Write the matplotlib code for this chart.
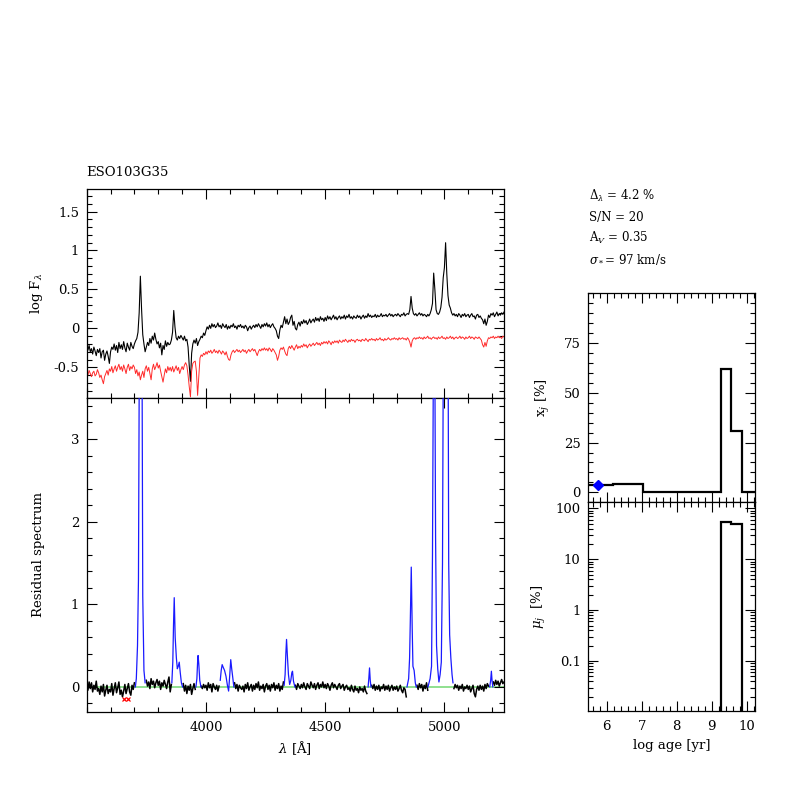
import numpy as np
import matplotlib
matplotlib.use("Agg")
import matplotlib.pyplot as plt
from matplotlib.ticker import MultipleLocator, FixedLocator, LogLocator, NullFormatter, FuncFormatter

# spectra on a 5 A grid
wave = np.arange(3500, 5251, 5)

obs_logflux = [
    -0.25, -0.28, -0.22, -0.30, -0.26, -0.33, -0.24, -0.29, -0.35, -0.27,
    -0.31, -0.26, -0.38, -0.30, -0.28, -0.41, -0.33, -0.29, -0.36, -0.45,
    -0.30, -0.24, -0.27, -0.20, -0.28, -0.22, -0.31, -0.18, -0.26, -0.21,
    -0.27, -0.17, -0.25, -0.30, -0.19, -0.24, -0.28, -0.18, -0.23, -0.26,
    -0.20, -0.16, -0.13, -0.05, 0.20, 0.67, 0.25, -0.08, -0.20, -0.30,
    -0.24, -0.18, -0.22, -0.13, -0.19, -0.10, -0.15, -0.06, -0.14, -0.20,
    -0.17, -0.25, -0.19, -0.34, -0.22, -0.27, -0.16, -0.23, -0.18, -0.21,
    -0.20, -0.15, -0.05, 0.23, 0.02, -0.12, -0.15, -0.10, -0.13, -0.09,
    -0.12, -0.15, -0.10, -0.16, -0.14, -0.24, -0.48, -0.68, -0.32, -0.20,
    -0.15, -0.19, -0.13, -0.22, -0.17, -0.14, -0.10, -0.12, -0.06, -0.09,
    -0.03, 0.02, -0.01, 0.04, 0.00, 0.06, 0.02, 0.05, 0.01, 0.03,
    0.07, 0.02, 0.04, 0.00, 0.06, 0.03, 0.01, 0.05, -0.01, 0.03,
    0.00, 0.04, 0.02, 0.06, 0.01, 0.03, -0.01, 0.04, 0.02, 0.05,
    0.01, 0.03, 0.00, 0.04, 0.02, -0.03, 0.01, 0.03, -0.01, 0.02,
    0.04, 0.01, 0.05, 0.02, 0.06, 0.03, 0.00, 0.05, 0.02, 0.06,
    0.03, 0.07, 0.02, 0.05, 0.01, 0.04, 0.06, 0.02, 0.00, -0.03,
    -0.10, -0.13, -0.02, 0.04, 0.01, 0.08, 0.15, 0.06, 0.12, 0.05,
    0.08, 0.14, 0.17, 0.04, 0.09, 0.00, -0.02, 0.05, 0.08, 0.03,
    0.09, 0.06, 0.11, 0.07, 0.10, 0.05, 0.08, 0.12, 0.07, 0.10,
    0.12, 0.08, 0.14, 0.10, 0.13, 0.09, 0.15, 0.11, 0.13, 0.09,
    0.14, 0.10, 0.16, 0.12, 0.15, 0.11, 0.14, 0.17, 0.12, 0.15,
    0.11, 0.14, 0.16, 0.12, 0.15, 0.13, 0.17, 0.12, 0.16, 0.14,
    0.18, 0.13, 0.15, 0.12, 0.16, 0.14, 0.13, 0.17, 0.14, 0.16,
    0.12, 0.15, 0.17, 0.13, 0.16, 0.14, 0.19, 0.15, 0.17, 0.14,
    0.16, 0.15, 0.18, 0.14, 0.17, 0.15, 0.16, 0.19, 0.15, 0.17,
    0.16, 0.18, 0.15, 0.17, 0.19, 0.16, 0.18, 0.15, 0.17, 0.18,
    0.16, 0.19, 0.17, 0.15, 0.18, 0.17, 0.20, 0.16, 0.18, 0.19,
    0.18, 0.24, 0.41, 0.26, 0.19, 0.17, 0.19, 0.16, 0.18, 0.20,
    0.17, 0.19, 0.16, 0.18, 0.17, 0.15, 0.18, 0.16, 0.19, 0.24,
    0.32, 0.71, 0.50, 0.24, 0.19, 0.18, 0.21, 0.27, 0.40, 0.65,
    0.78, 1.10, 0.70, 0.42, 0.30, 0.26, 0.20, 0.17, 0.19, 0.16,
    0.18, 0.15, 0.19, 0.17, 0.14, 0.18, 0.16, 0.19, 0.15, 0.17,
    0.18, 0.14, 0.17, 0.19, 0.15, 0.16, 0.12, 0.17, 0.18, 0.14,
    0.16, 0.13, 0.11, 0.06, 0.12, 0.04, 0.09, 0.17, 0.14, 0.19,
    0.17, 0.20, 0.15, 0.18, 0.21, 0.16, 0.19, 0.17, 0.20, 0.18,
    0.21,
]

model_logflux = [
    -0.56, -0.60, -0.54, -0.58, -0.62, -0.57, -0.55, -0.61, -0.59, -0.53,
    -0.57, -0.63, -0.60, -0.66, -0.71, -0.62, -0.58, -0.54, -0.60, -0.52,
    -0.55, -0.49, -0.57, -0.52, -0.48, -0.55, -0.50, -0.46, -0.53, -0.49,
    -0.55, -0.47, -0.52, -0.58, -0.50, -0.46, -0.54, -0.49, -0.52, -0.47,
    -0.50, -0.58, -0.53, -0.61, -0.56, -0.66, -0.60, -0.55, -0.63, -0.52,
    -0.48, -0.55, -0.50, -0.58, -0.66, -0.52, -0.46, -0.53, -0.49, -0.44,
    -0.51, -0.47, -0.55, -0.62, -0.69, -0.60, -0.52, -0.57, -0.49, -0.54,
    -0.50, -0.55, -0.49, -0.56, -0.52, -0.48, -0.54, -0.50, -0.58, -0.53,
    -0.49, -0.53, -0.47, -0.44, -0.48, -0.60, -0.75, -0.88, -0.55, -0.45,
    -0.43, -0.42, -0.55, -0.86, -0.62, -0.38, -0.34, -0.36, -0.32, -0.34,
    -0.30, -0.33, -0.29, -0.31, -0.28, -0.32, -0.30, -0.27, -0.31, -0.29,
    -0.32, -0.28, -0.30, -0.33, -0.29, -0.31, -0.34, -0.30, -0.36, -0.40,
    -0.41, -0.34, -0.30, -0.28, -0.31, -0.29, -0.27, -0.30, -0.28, -0.31,
    -0.29, -0.27, -0.30, -0.28, -0.32, -0.29, -0.27, -0.30, -0.28, -0.26,
    -0.29, -0.27, -0.31, -0.35, -0.30, -0.27, -0.29, -0.26, -0.28, -0.25,
    -0.28, -0.26, -0.29, -0.25, -0.27, -0.30, -0.26, -0.28, -0.31, -0.34,
    -0.41, -0.36, -0.28, -0.25, -0.27, -0.24, -0.29, -0.33, -0.35, -0.26,
    -0.23, -0.26, -0.22, -0.25, -0.28, -0.24, -0.21, -0.26, -0.23, -0.25,
    -0.22, -0.24, -0.20, -0.23, -0.21, -0.25, -0.22, -0.20, -0.23, -0.21,
    -0.19, -0.22, -0.20, -0.18, -0.21, -0.19, -0.22, -0.18, -0.20, -0.17,
    -0.19, -0.17, -0.20, -0.16, -0.18, -0.21, -0.17, -0.19, -0.16, -0.18,
    -0.16, -0.19, -0.15, -0.17, -0.18, -0.15, -0.17, -0.14, -0.16, -0.18,
    -0.15, -0.17, -0.14, -0.16, -0.15, -0.18, -0.15, -0.14, -0.16, -0.15,
    -0.17, -0.14, -0.15, -0.16, -0.13, -0.15, -0.17, -0.14, -0.15, -0.13,
    -0.15, -0.14, -0.16, -0.13, -0.15, -0.14, -0.12, -0.15, -0.14, -0.16,
    -0.13, -0.15, -0.14, -0.12, -0.14, -0.15, -0.13, -0.14, -0.12, -0.14,
    -0.13, -0.15, -0.12, -0.14, -0.13, -0.12, -0.14, -0.13, -0.15, -0.12,
    -0.14, -0.18, -0.24, -0.16, -0.13, -0.12, -0.14, -0.12, -0.13, -0.11,
    -0.13, -0.12, -0.14, -0.11, -0.13, -0.12, -0.10, -0.13, -0.12, -0.14,
    -0.12, -0.11, -0.13, -0.12, -0.14, -0.11, -0.13, -0.12, -0.10, -0.13,
    -0.12, -0.14, -0.11, -0.13, -0.12, -0.10, -0.13, -0.11, -0.14, -0.12,
    -0.11, -0.13, -0.12, -0.10, -0.13, -0.11, -0.12, -0.14, -0.11, -0.13,
    -0.12, -0.10, -0.13, -0.11, -0.12, -0.14, -0.11, -0.12, -0.13, -0.11,
    -0.13, -0.15, -0.21, -0.24, -0.18, -0.23, -0.16, -0.12, -0.13, -0.11,
    -0.12, -0.10, -0.13, -0.11, -0.12, -0.10, -0.12, -0.11, -0.13, -0.10,
    -0.11,
]

residual = [
    0.03, -0.04, 0.06, -0.02, 0.05, -0.06, 0.02, -0.03, 0.07, -0.05,
    -0.02, -0.09, 0.01, -0.06, 0.03, -0.11, -0.04, 0.02, -0.08, -0.03,
    -0.06, 0.04, -0.10, -0.02, 0.05, -0.07, -0.01, 0.06, -0.09, -0.04,
    -0.12, -0.05, 0.03, -0.08, -0.02, 0.04, -0.06, -0.10, 0.02, -0.03,
    0.05, 0, 0, 0, 0, 0, 0, 0, 0, 0.04,
    0.08, 0.01, 0.06, -0.02, 0.10, 0.03, 0.07, -0.01, 0.05, 0.09,
    0.02, 0.07, -0.03, 0.05, 0.01, 0.08, 0.03, -0.02, 0.06, 0.12,
    -0.06, 0.03, 0, 0, 0, 0, 0, 0, 0, 0,
    0, 0.04, -0.05, 0.02, -0.08, 0.01, -0.04, 0.03, -0.09, -0.02,
    0.04, -0.03, 0, 0, 0, 0, 0.01, -0.02, 0.03, -0.01,
    0.02, -0.04, 0.05, -0.01, 0.03, -0.06, 0.04, 0.00, -0.03, 0.02,
    -0.05, 0.01, -0.08, 0, 0, 0, 0, 0, 0, 0,
    0, 0, 0, 0, 0.05, -0.02, 0.03, -0.05, 0.02, -0.01,
    -0.03, 0.01, -0.06, 0.03, -0.02, 0.05, -0.04, 0.00, 0.03, -0.05,
    0.02, -0.03, 0.04, -0.01, 0.06, -0.04, 0.01, -0.02, 0.03, -0.06,
    0.01, 0.04, -0.03, 0.02, -0.05, 0.03, -0.01, 0.05, -0.04, 0.02,
    -0.02, 0.04, -0.05, 0.01, -0.03, 0.06, 0, 0, 0, 0,
    0, 0, 0, 0, 0, 0.02, -0.03, 0.04, 0.01, -0.02,
    0.03, -0.01, 0.05, 0.00, -0.03, 0.04, 0.01, -0.02, 0.06, 0.02,
    -0.01, 0.04, -0.03, 0.02, 0.05, -0.02, 0.03, 0.00, 0.06, -0.01,
    0.03, -0.02, 0.04, 0.01, -0.04, 0.02, 0.05, -0.01, 0.03, 0.00,
    -0.03, 0.02, 0.04, -0.02, 0.01, 0.03, -0.04, 0.00, 0.02, -0.03,
    -0.01, -0.05, 0.02, -0.03, -0.06, 0.01, -0.04, -0.02, -0.07, 0.00,
    -0.04, -0.02, -0.06, 0.01, -0.05, -0.08, 0, 0, 0, 0.02,
    -0.02, 0.03, -0.04, 0.01, -0.03, 0.02, -0.05, 0.00, -0.02, 0.03,
    -0.04, 0.01, -0.03, 0.02, -0.05, -0.01, 0.02, -0.04, 0.00, -0.03,
    0.01, -0.05, -0.02, 0.02, -0.04, -0.07, -0.01, -0.03, -0.12, 0,
    0, 0, 0, 0, 0, 0, 0, 0.02, -0.03, 0.04,
    -0.01, 0.03, -0.05, 0.02, -0.02, 0.05, -0.04, 0, 0, 0,
    0, 0, 0, 0, 0, 0, 0, 0, 0, 0,
    0, 0, 0, 0, 0, 0, 0, 0, -0.02, 0.03,
    -0.01, 0.02, -0.04, 0.01, -0.02, 0.03, -0.05, 0.00, -0.02, 0.02,
    -0.03, 0.01, -0.06, -0.02, 0.02, -0.08, -0.12, -0.03, 0.01, -0.04,
    0.02, -0.03, 0.01, -0.05, 0.03, -0.02, 0.04, 0.01, 0, 0,
    0, 0.06, 0.02, 0.08, 0.03, 0.07, 0.01, 0.05, 0.09, 0.04,
    0.06,
]

# masked (emission line) windows, drawn in blue
mask_windows = [(3704, 3745), (3857, 3902), (3958, 3979), (4060, 4117), (4328, 4373),
                (4680, 4692), (4843, 4882), (4931, 5036), (5190, 5203)]
line_waves = [
    [3704, 3708, 3713, 3717, 3727, 3735, 3740, 3745],
    [3857, 3861, 3864, 3867, 3871, 3876, 3880, 3884, 3888, 3892, 3897, 3902],
    [3958, 3962, 3965, 3967, 3970, 3974, 3979],
    [4060, 4064, 4068, 4072, 4078, 4084, 4090, 4095, 4100, 4104, 4108, 4113, 4117],
    [4328, 4332, 4335, 4338, 4342, 4346, 4351, 4356, 4360, 4363, 4367, 4373],
    [4680, 4683, 4686, 4689, 4692],
    [4843, 4850, 4854, 4857, 4861, 4865, 4868, 4873, 4878, 4882],
    [4931, 4940, 4946, 4950, 4957, 4963, 4967, 4972, 4977, 4982, 4987, 4992,
     5007, 5018, 5022, 5027, 5032, 5036],
    [5190, 5194, 5197, 5200, 5203],
]
line_resid = [
    [0.0, 0.1, 0.5, 1.3, 9.0, 1.1, 0.2, 0.05],
    [0.05, 0.3, 0.75, 1.08, 0.6, 0.35, 0.22, 0.25, 0.30, 0.18, 0.05, 0.0],
    [0.0, 0.1, 0.3, 0.38, 0.28, 0.08, 0.0],
    [0.08, 0.2, 0.27, 0.24, 0.2, 0.13, 0.02, -0.05, 0.15, 0.33, 0.22, 0.1, 0.0],
    [0.02, 0.15, 0.40, 0.575, 0.35, 0.15, 0.03, 0.08, 0.17, 0.19, 0.07, 0.0],
    [0.0, 0.10, 0.23, 0.08, 0.0],
    [0.0, 0.1, 0.35, 0.8, 1.45, 0.7, 0.25, 0.2, 0.05, 0.0],
    [0.0, 0.1, 0.25, 1.6, 6.0, 1.8, 0.5, 0.22, 0.06, 0.15, 0.3, 1.5,
     13.0, 1.5, 0.63, 0.35, 0.15, 0.05],
    [0.0, 0.08, 0.19, 0.07, 0.0],
]
clipped_wave = [3657, 3674]
clipped_resid = [-0.15, -0.15]

# population vectors
age_edges = [5.4, 6.19, 7.03, 9.26, 9.54, 9.86, 10.3]
x_j = [3.5, 4.0, 0.0, 62.0, 31.0, 0.0]
mu_j = [54.0, 49.0]
mu_edges = [9.26, 9.54, 9.86]
fc_logage = [5.75]
fc_x = [3.5]

galaxy = "ESO103G35"
info_lines = [r"$\Delta_\lambda$ = 4.2 %", "S/N = 20",
              r"A$_V$ = 0.35", r"$\sigma_*$= 97 km/s"]

plt.rcParams["font.family"] = "DejaVu Serif"
plt.rcParams["mathtext.fontset"] = "dejavuserif"
plt.rcParams["font.size"] = 9.5
plt.rcParams["axes.linewidth"] = 0.9


def style_axes(ax):
    ax.tick_params(which="both", direction="in", top=True, right=True,
                   labelsize=9.5, width=0.8)
    ax.tick_params(which="major", length=7)
    ax.tick_params(which="minor", length=3.5)
    ax.tick_params(axis="x", which="major", pad=6.5)
    ax.tick_params(axis="y", which="major", pad=5.5)


fig = plt.figure(figsize=(7.97, 7.97), dpi=100)

ax1 = fig.add_axes([0.1088, 0.501, 0.5236, 0.2619])
ax2 = fig.add_axes([0.1088, 0.107, 0.5236, 0.394])
ax3 = fig.add_axes([0.7381, 0.3698, 0.2092, 0.2622])
ax4 = fig.add_axes([0.7381, 0.1079, 0.2092, 0.2619])

# top: observed and model spectra
ax1.plot(wave, obs_logflux, color="black", lw=0.8)
ax1.plot(wave, model_logflux, color="#ff2a2a", lw=0.7)
ax1.set_xlim(3500, 5250)
ax1.set_ylim(-0.89, 1.79)
ax1.xaxis.set_major_locator(MultipleLocator(500))
ax1.xaxis.set_minor_locator(MultipleLocator(100))
ax1.yaxis.set_major_locator(FixedLocator([-0.5, 0, 0.5, 1, 1.5]))
ax1.yaxis.set_minor_locator(MultipleLocator(0.1))
ax1.yaxis.set_major_formatter(FuncFormatter(lambda v, p: "%g" % v))
ax1.set_ylabel(r"log F$_\lambda$")
ax1.yaxis.set_label_coords(-0.1, 0.5)
style_axes(ax1)
ax1.tick_params(labelbottom=False)
fig.text(0.108, 0.783, galaxy, fontsize=9.5, va="center")

# bottom: residual spectrum
res = np.array(residual, dtype=float)
for lo, hi in mask_windows:
    res[(wave >= lo) & (wave <= hi)] = np.nan
ax2.axhline(0, color="#8fe08f", lw=1.4, zorder=1)
ax2.plot(wave, res, color="black", lw=1.1, zorder=2)
for lw_, lr_ in zip(line_waves, line_resid):
    ax2.plot(lw_, lr_, color="#1a1aff", lw=0.9, zorder=3)
ax2.plot(clipped_wave, clipped_resid, "x", color="red", ms=3.5, mew=0.9)
ax2.set_xlim(3500, 5250)
ax2.set_ylim(-0.3, 3.5)
ax2.xaxis.set_major_locator(FixedLocator([4000, 4500, 5000]))
ax2.xaxis.set_minor_locator(MultipleLocator(100))
ax2.yaxis.set_major_locator(MultipleLocator(1))
ax2.yaxis.set_minor_locator(MultipleLocator(0.2))
ax2.set_ylabel("Residual spectrum")
ax2.yaxis.set_label_coords(-0.1, 0.5)
ax2.set_xlabel(r"$\lambda$ [$\rm\AA$]")
ax2.xaxis.set_label_coords(0.5, -0.087)
style_axes(ax2)

# right top: light fractions
ax3.stairs(x_j, age_edges, color="black", lw=1.6, baseline=0)
ax3.plot(fc_logage, fc_x, "D", color="blue", ms=5, zorder=4, clip_on=False)
ax3.set_xlim(5.47, 10.24)
ax3.set_ylim(-5, 100)
ax3.xaxis.set_major_locator(MultipleLocator(1))
ax3.xaxis.set_minor_locator(MultipleLocator(0.2))
ax3.yaxis.set_major_locator(FixedLocator([0, 25, 50, 75]))
ax3.yaxis.set_minor_locator(MultipleLocator(5))
ax3.set_ylabel(r"x$_j$ [%]")
ax3.yaxis.set_label_coords(-0.215, 0.5)
style_axes(ax3)
ax3.tick_params(labelbottom=False)

# right bottom: mass fractions
ax4.stairs(mu_j, mu_edges, color="black", lw=1.6, baseline=1e-3)
ax4.set_yscale("log")
ax4.set_xlim(5.47, 10.24)
ax4.set_ylim(0.0105, 131)
ax4.xaxis.set_major_locator(MultipleLocator(1))
ax4.xaxis.set_minor_locator(MultipleLocator(0.2))
ax4.yaxis.set_major_locator(FixedLocator([0.1, 1, 10, 100]))
ax4.yaxis.set_minor_locator(LogLocator(base=10, subs=np.arange(2, 10)))
ax4.yaxis.set_minor_formatter(NullFormatter())
ax4.yaxis.set_major_formatter(FuncFormatter(lambda v, p: "%g" % v))
ax4.set_ylabel(r"$\mu_j$  [%]")
ax4.yaxis.set_label_coords(-0.24, 0.5)
ax4.set_xlabel("log age [yr]")
ax4.xaxis.set_label_coords(0.5, -0.134)
style_axes(ax4)

for k, line in enumerate(info_lines):
    fig.text(0.739, 0.754 - 0.0263 * k, line, fontsize=8.5, va="center")

fig.savefig("out.png", dpi=100)
